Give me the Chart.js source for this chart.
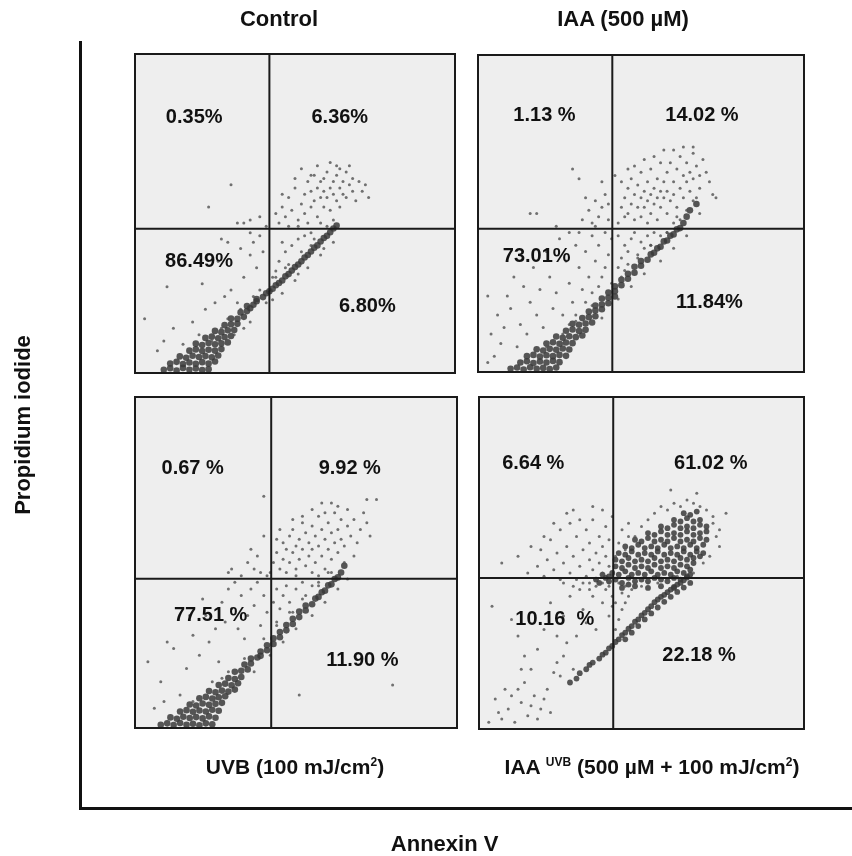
<!DOCTYPE html>
<html>
<head>
<meta charset="utf-8">
<script src="https://cdn.jsdelivr.net/npm/chart.js@4.4.1/dist/chart.umd.min.js"></script>
<style>
  body { margin: 0; background: #fff; width: 852px; height: 856px; position: relative; overflow: hidden;
         font-family: "Liberation Sans", Arial, sans-serif; }
  canvas { position: absolute; }
  .cap { position: absolute; font-weight: bold; color: #111; white-space: nowrap; transform: translate(-50%, -50%); }
  .cap sup { font-size: 12px; vertical-align: 8px; line-height: 0; }
</style>
</head>
<body>
<canvas id="frame" width="852" height="856" style="left:0;top:0"></canvas>
<canvas id="p0"></canvas>
<canvas id="p1"></canvas>
<canvas id="p2"></canvas>
<canvas id="p3"></canvas>
<div class="cap" style="left:279px;top:19px;font-size:22px">Control</div>
<div class="cap" style="left:623px;top:19px;font-size:22px">IAA (500 µM)</div>
<div class="cap" style="left:295px;top:767px;font-size:21px">UVB (100 mJ/cm<sup>2</sup>)</div>
<div class="cap" style="left:652px;top:767px;font-size:21px">IAA <sup>UVB</sup> (500 µM + 100 mJ/cm<sup>2</sup>)</div>
<script>
// axis titles of the whole figure
const xTitle = 'Annexin V';
const yTitle = 'Propidium iodide';

// quadrant percentages: [upper-left, upper-right, lower-left, lower-right]
const controlLabels = ['0.35%', '6.36%', '86.49%', '6.80%'];
const iaaLabels = ['1.13 %', '14.02 %', '73.01%', '11.84%'];
const uvbLabels = ['0.67 %', '9.92 %', '77.51 %', '11.90 %'];
const iaaUvbLabels = ['6.64 %', '61.02 %', '10.16  %', '22.18 %'];

// quadrant gates (data units, 0-100 channel scale)
const gateX = [42, 41.2, 42.3, 41.3];
const gateY = [45.2, 45.2, 45.1, 45.5];

// events: dense core and scattered events
const controlDense = [
  [9,1],[11,1.5],[13,0.8],[15,1.6],[17,1],[19,1.4],[21,0.9],[23,1.2],
  [11,3],[13,3.5],[15,2.8],[17,3.3],[19,2.9],[21,3.4],[23,3],[25,3.6],
  [14,5.2],[16,4.8],[18,5.4],[20,5],[22,5.3],[24,4.9],[26,5.5],
  [17,7],[19,7.4],[21,6.9],[23,7.3],[25,7],[27,7.5],
  [19,9.2],[21,8.8],[23,9.4],[25,9],[27,9.3],[29,9.6],
  [22,11],[24,11.4],[26,10.9],[28,11.3],[30,11.6],
  [25,13.2],[27,12.8],[29,13.4],[31,13.5],
  [28,15],[30,15.3],[32,15.4],
  [30,17.1],[32,17],[34,17.6],
  [33,19],[35,19.4],[36,20.3],
  [35,21],[37,21.4],[38,22.5],
  [38,23.2],[40,23.8],[41,25],[42,25.6],
  [43,26.4],[44,27.5],[45,28.2],[46,29],[47,30.3],[48,31],[49,32.1],[50,33.2],[51,34],[52,35],
  [53,36.2],[54,37],[55,38.1],[56,39.3],[57,40],[58,41.2],[59,42.3],[60,43],[61,44.1],[62,45.3],[63,46.2]
];
const controlSparse = [
  [45,47],[46,52],[47,49],[48,55],[49,51],[50,58],[51,48],[52,53],[53,56],[53,50],[54,60],[55,52],
  [55,57],[56,54],[56,62],[57,49],[57,58],[58,55],[58,60],[59,52],[59,57],[60,63],[60,55],[61,58],
  [61,51],[62,60],[62,56],[63,54],[63,62],[64,58],[64,52],[65,60],[65,56],[66,63],[66,55],[67,59],
  [68,57],[68,61],[69,54],[70,60],[71,57],[72,59],[73,55],[50,61],[52,64],[57,65],[61,66],[64,64],
  [67,65],[48,46],[51,46],[54,47],[58,47],[62,48],[46,56],[44,50],[55,62],[59,61],[63,65],
  [30,59],[23,52],[32,47],[34,47],[36,48],[39,49],[41,46],
  [27,42],[29,41],[37,41],[36,37],[38,33],[34,30],[10,27],[21,28],[3,17],[9,10],[7,7],[12,14],
  [18,16],[22,20],[25,22],[28,24],[30,26],[32,22],[20,12],[15,9],[39,43],[40,38],[36,44],[26,35],[33,39],
  [45,35],[47,38],[44,32],[49,40],[51,42],[53,43],[46,41],[55,44],[43,30],
  [27,14],[31,12],[33,20],[36,16],[39,26],[41,22],[44,30],[46,25],[48,34],[50,29],[52,38],[54,33],
  [56,42],[58,37],[60,46],[62,41],[24,10],[29,17],[34,14],[37,24],[43,23],[47,33],[51,31],[55,40],[59,39]
];

const iaaDense = [
  [10,1],[12,1.4],[14,0.8],[16,1.5],[18,1],[20,1.3],[22,0.9],[24,1.4],
  [13,3],[15,3.4],[17,2.8],[19,3.3],[21,3],[23,3.5],[25,3.1],
  [15,5],[17,5.4],[19,4.9],[21,5.3],[23,5],[25,5.4],[27,5.1],
  [18,7.2],[20,6.8],[22,7.3],[24,7],[26,7.4],[28,7.1],
  [21,9],[23,9.4],[25,8.9],[27,9.3],[29,9.1],
  [24,11.2],[26,10.8],[28,11.3],[30,11],[32,11.5],
  [27,13],[29,13.4],[31,12.9],[33,13.3],
  [29,15.2],[31,14.9],[33,15.3],[35,15.6],
  [32,17],[34,17.3],[36,17.6],
  [34,19.1],[36,19.4],[38,19.8],
  [36,21],[38,21.3],[40,21.7],
  [38,23.2],[40,23.4],[42,23.8],
  [40,25.1],[42,25.5],[42,27],[44,27.4],[44,29.1],[46,29.4],[46,31],[48,31.3],
  [48,33.2],[50,33.5],[50,35],[52,35.4],[53,37.1],[54,37.6],[55,39],[56,39.5],
  [57,41.2],[58,41.5],[59,43],[60,43.4],[61,45],[62,45.4],[63,47],[64,49],[65,51],[67,53]
];
const iaaSparse = [
  [43,47],[44,52],[45,49],[45,55],[46,58],[46,50],[47,53],[47,61],[48,48],[48,56],[49,52],[49,59],
  [50,55],[50,63],[50,49],[51,57],[51,52],[52,60],[52,54],[52,47],[53,56],[53,64],[53,50],[54,58],
  [54,53],[55,61],[55,55],[55,48],[56,57],[56,66],[56,52],[57,60],[57,55],[58,63],[58,50],[58,57],
  [59,66],[59,54],[60,60],[60,56],[61,64],[61,52],[62,58],[62,68],[63,62],[63,55],[64,60],[64,66],
  [65,57],[65,63],[66,69],[66,61],[67,65],[68,58],[68,62],[69,67],[70,63],[71,60],[72,56],[73,55],
  [54,68],[57,70],[60,70],[63,71],[66,71],[44,60],[42,62],[48,65],[51,67],[46,64],[61,49],[64,51],[67,55],
  [32,48],[34,51],[35,47],[36,54],[37,49],[38,52],[39,56],[40,48],[40,53],[33,55],[31,61],[16,50],
  [18,50],[24,46],[29,64],[36,46],[38,60],
  [5,5],[7,9],[8,14],[6,18],[10,20],[12,8],[13,15],[15,12],[16,22],[18,18],[19,26],[20,14],[22,30],
  [23,20],[24,25],[26,18],[27,35],[28,28],[29,22],[30,40],[31,33],[32,26],[33,38],[34,30],[35,43],
  [36,35],[37,40],[38,30],[39,44],[40,37],[14,27],[11,30],[9,24],[4,12],[3,3],[17,33],[21,38],
  [25,42],[28,44],[31,44],[41,42],[39,33],[37,27],[35,25],[33,22],[3,24],[21,8],[26,12],[30,16],
  [43,33],[44,36],[45,40],[46,38],[47,42],[48,44],[50,41],[52,43],[54,44],[44,30],[46,34],[49,37],
  [51,39],[43,43],[53,40],[56,43],[58,44],[60,47],
  [28,15],[32,13],[35,21],[38,17],[41,28],[43,23],[45,32],[47,27],[49,36],[51,31],[53,40],[56,35],
  [58,44],[60,39],[62,48],[64,43],[66,54],[68,50],[26,9],[30,18]
];

const uvbDense = [
  [8,1],[10,1.4],[12,0.9],[14,1.5],[16,1],[18,1.3],[20,0.8],[22,1.4],[24,1.1],
  [11,3.2],[13,2.8],[15,3.4],[17,3],[19,3.3],[21,2.9],[23,3.5],[25,3.1],
  [14,5],[16,5.4],[18,4.9],[20,5.3],[22,5],[24,5.5],[26,5.2],
  [17,7.1],[19,6.8],[21,7.4],[23,7],[25,7.3],[27,7.6],
  [20,9],[22,9.4],[24,8.9],[26,9.3],[28,9.6],
  [23,11.2],[25,10.8],[27,11.3],[29,11],[31,11.6],
  [26,13],[28,13.4],[30,12.9],[32,13.5],
  [29,15.1],[31,14.8],[33,15.4],
  [31,17],[33,17.3],[35,17.7],
  [34,19.2],[36,19.5],[36,21],[38,21.3],[39,21.8],
  [39,23.1],[41,23.5],[41,25],[43,25.4],[43,27.1],[45,27.4],[45,29],[47,29.5],
  [47,31.1],[49,31.4],[49,33],[51,33.5],[51,35.2],[53,35.5],[53,37],[55,37.4],
  [56,39.1],[57,39.6],[58,41],[59,41.5],[60,43.1],[61,43.4],[62,45],[63,45.5],[64,47],[65,49]
];
const uvbSparse = [
  [42,47],[43,50],[44,53],[45,48],[46,51],[46,56],[47,54],[47,47],[48,58],[48,50],[49,53],[49,60],
  [50,55],[50,48],[51,57],[51,51],[52,62],[52,54],[53,49],[53,59],[54,56],[54,52],[55,61],[55,54],
  [55,47],[56,58],[56,50],[57,55],[57,64],[58,52],[58,60],[59,57],[59,48],[60,62],[60,54],[61,59],
  [61,51],[62,65],[62,56],[63,60],[63,53],[64,63],[64,57],[65,55],[66,61],[66,66],[67,58],[68,63],
  [69,56],[70,60],[71,65],[72,62],[73,58],[72,69],[75,69],[58,68],[61,68],[55,66],[52,64],[49,63],
  [45,60],[44,57],[57,46],[60,47],[65,50],[68,52],[50,46],[59,65],[63,67],
  [40,70],[35,50],[37,48],[38,52],[39,47],[41,46],[30,48],[33,46],[36,54],[40,58],[29,47],
  [4,20],[8,14],[6,6],[12,24],[14,10],[16,18],[18,28],[20,22],[22,34],[23,26],[25,30],[27,38],
  [28,32],[30,36],[31,44],[32,30],[33,40],[35,34],[36,42],[37,37],[38,44],[39,31],[40,40],[41,35],
  [26,20],[24,14],[18,8],[10,26],[17,34],[29,42],[34,27],[21,39],[9,8],[13,3],
  [51,10],[80,13],[44,32],[45,36],[46,40],[47,43],[48,38],[50,42],[52,44],[53,40],[55,43],[43,38],
  [49,35],[57,44],[44,42],
  [27,15],[31,12],[34,21],[37,17],[40,27],[42,22],[44,31],[46,26],[48,35],[50,30],[52,39],[55,34],
  [57,43],[59,38],[61,47],[63,42],[25,9],[29,17],[66,45]
];

const iaaUvbDense = [
  [28,14],[30,15.2],[31,16.8],[33,18],[34,19.3],[35,20],[37,21.2],[38,22.4],[39,23],[40,24.3],
  [41,25],[42,26.2],[43,27],[44,28.3],[45,29],[46,30.2],[47,31],[48,32.3],[49,33],[50,34.2],
  [51,35],[52,36.1],[53,37],[54,38.2],[55,39],[56,39.8],[57,40.4],[58,41.2],[59,42],[60,42.8],
  [61,43.5],[62,44],[63,44.8],[64,45.6],[65,46.5],
  [45,27],[47,29],[49,31],[51,33],[53,34.8],[55,36.6],[57,38.3],[59,39.8],[61,41.3],[63,42.6],[65,44],
  [37,44],[39,45.5],[38,46.5],[40,46],[36,45],[44,42.5],[46,43.5],[48,43],[52,42.5],[56,43],[60,42.5],
  [40,44.5],[42,45],[44,44],[46,45.5],[48,44.5],[50,45],[52,44.5],[54,45.5],[56,45],[58,44.5],[60,45.5],[62,45],[64,46],
  [41,47],[43,46.5],[45,47.5],[47,46.5],[49,47],[51,46.5],[53,47.5],[55,46.5],[57,47],[59,46.5],[61,47.5],[63,47],[65,48],
  [42,49],[44,48.5],[46,49.5],[48,48.5],[50,49],[52,48.5],[54,49.5],[56,48.5],[58,49],[60,48.5],[62,49.5],[64,49],[66,50],
  [42,51],[44,50.5],[46,51.5],[48,50.5],[50,51],[52,50.5],[54,51.5],[56,50.5],[58,51],[60,50.5],[62,51.5],[64,51],[66,51.5],[68,52],
  [43,53],[45,52.5],[47,53.5],[49,52.5],[51,53],[53,52.5],[55,53.5],[57,52.5],[59,53],[61,52.5],[63,53.5],[65,52.5],[67,53.5],[69,53],
  [45,55],[47,54.5],[49,55.5],[51,54.5],[53,55],[55,54.5],[57,55.5],[59,54.5],[61,55],[63,54.5],[65,55.5],[67,54.5],[69,55.5],
  [48,57],[50,56.5],[52,57.5],[54,56.5],[56,57],[58,56.5],[60,57.5],[62,56.5],[64,57],[66,56.5],[68,57.5],[70,57],
  [52,59],[54,58.5],[56,59.5],[58,58.5],[60,59],[62,58.5],[64,59.5],[66,58.5],[68,59],[70,59.5],
  [56,61],[58,60.5],[60,61.5],[62,60.5],[64,61],[66,60.5],[68,61.5],[70,61],
  [60,63],[62,62.5],[64,63.5],[66,62.5],[68,63],[63,65],[65,64.5],[67,65.5]
];
const iaaUvbSparse = [
  [7,50],[12,52],[15,47],[18,49],[19,54],[20,46],[21,51],[22,57],[23,48],[24,53],[25,60],[25,45],
  [26,50],[27,55],[28,47],[28,62],[29,52],[30,58],[30,45],[31,49],[32,54],[33,46],[33,60],[34,51],
  [34,56],[35,48],[35,63],[36,53],[36,45],[37,58],[37,50],[38,47],[38,55],[39,61],[39,52],[40,49],
  [40,57],[41,46],[31,63],[27,65],[29,66],[23,62],[20,58],[16,55],[35,67],[38,66],[41,64],[32,44],
  [34,44],[36,43],[38,44],[40,43],[26,44],[29,43],
  [42,52],[43,56],[44,60],[45,54],[46,62],[48,58],[50,61],[52,63],[54,65],[56,67],[58,66],[60,68],
  [62,67],[64,69],[66,68],[68,67],[70,66],[72,62],[73,58],[74,55],[71,52],[69,50],[72,64],[74,60],
  [59,72],[67,71],[76,65],[46,58],[44,48],
  [4,37],[10,33],[12,28],[14,22],[16,18],[18,24],[20,30],[22,38],[24,20],[26,34],[28,40],[30,28],
  [32,36],[34,42],[36,30],[38,38],[40,34],[39,42],[37,44],[35,40],[33,32],[31,42],[27,26],[25,16],
  [21,12],[19,6],[17,10],[15,4],[13,8],[11,2],[9,6],[7,3],[5,9],[12,12],[14,14],[16,7],[18,3],
  [20,9],[22,5],[10,10],[8,12],[6,5],[3,2],[23,17],[26,22],[29,18],[24,28],[13,18],[41,40],[40,44],[41,37],
  [42,30],[43,33],[44,36],[45,38],[46,40],[47,42],[48,44],[44,41],[42,38],[45,43],[50,43],[52,44],
  [55,44],[58,45],[61,46],[63,47],[66,47],[43,44],[46,44]
];

// page layout of the four plot boxes [left, top, right, bottom] and label anchors (data units)
const boxes = [[133, 52, 457, 375], [476, 53, 806, 374], [133, 395, 459, 730], [477, 395, 806, 731]];
const labelAnchors = [
  [[18.5, 80], [64, 80], [20, 35], [72.6, 21]],
  [[20.4, 81], [68.7, 81], [18, 36.4], [71, 21.8]],
  [[17.9, 78.4], [66.7, 78.4], [23.5, 34], [70.6, 20.4]],
  [[16.7, 80], [71.3, 80], [23.3, 33], [67.7, 22]]
];
const denseRadius = [3.3, 3.3, 3.3, 2.9];

const panels = [
  { dense: controlDense, sparse: controlSparse, labels: controlLabels },
  { dense: iaaDense, sparse: iaaSparse, labels: iaaLabels },
  { dense: uvbDense, sparse: uvbSparse, labels: uvbLabels },
  { dense: iaaUvbDense, sparse: iaaUvbSparse, labels: iaaUvbLabels }
];

Chart.defaults.font.family = '"Liberation Sans", Arial, sans-serif';
Chart.defaults.color = '#111';

// outer L-shaped axes with the two axis titles
new Chart(document.getElementById('frame'), {
  type: 'scatter',
  data: { datasets: [] },
  options: {
    responsive: false,
    animation: false,
    layout: { padding: { left: 0, top: 42, right: 0, bottom: 0 } },
    plugins: { legend: { display: false }, tooltip: { enabled: false } },
    scales: {
      x: {
        min: 0, max: 1,
        ticks: { display: false },
        grid: { display: false, drawTicks: false },
        border: { display: true, width: 3, color: '#111' },
        title: { display: true, text: xTitle + '       ', font: { size: 22, weight: 'bold', lineHeight: 1 },
                 padding: { top: 26, bottom: 0 } }
      },
      y: {
        min: 0, max: 1,
        ticks: { display: false },
        grid: { display: false, drawTicks: false },
        border: { display: true, width: 3, color: '#111' },
        title: { display: true, text: yTitle, font: { size: 22, weight: 'bold' },
                 padding: { top: 11, bottom: 42.6 } }
      }
    }
  }
});

function quadrantPlugin(i) {
  return {
    id: 'quadrants' + i,
    beforeDatasetsDraw(chart) {
      const { ctx, chartArea: a } = chart;
      ctx.save();
      ctx.fillStyle = '#eeeeee';
      ctx.fillRect(a.left, a.top, a.width, a.height);
      ctx.restore();
    },
    afterDatasetsDraw(chart) {
      const { ctx, chartArea: a, scales: { x, y } } = chart;
      const gx = x.getPixelForValue(gateX[i]);
      const gy = y.getPixelForValue(gateY[i]);
      ctx.save();
      ctx.strokeStyle = '#1a1a1a';
      ctx.lineWidth = 2;
      ctx.beginPath();
      ctx.moveTo(gx, a.top); ctx.lineTo(gx, a.bottom);
      ctx.moveTo(a.left, gy); ctx.lineTo(a.right, gy);
      ctx.stroke();
      ctx.strokeRect(a.left, a.top, a.width, a.height);
      ctx.font = 'bold 20px "Liberation Sans", Arial, sans-serif';
      ctx.fillStyle = '#111';
      ctx.textAlign = 'center';
      ctx.textBaseline = 'middle';
      panels[i].labels.forEach((t, k) => {
        const [lx, ly] = labelAnchors[i][k];
        ctx.fillText(t, x.getPixelForValue(lx), y.getPixelForValue(ly));
      });
      ctx.restore();
    }
  };
}

const toPts = arr => arr.map(([x, y]) => ({ x, y }));

panels.forEach((p, i) => {
  const [l, t, r, b] = boxes[i];
  const cv = document.getElementById('p' + i);
  cv.width = r - l + 4;
  cv.height = b - t + 4;
  cv.style.left = (l - 2) + 'px';
  cv.style.top = (t - 2) + 'px';
  new Chart(cv, {
    type: 'scatter',
    data: {
      datasets: [
        { data: toPts(p.sparse), pointRadius: 1.5, borderWidth: 0, backgroundColor: 'rgba(80,80,80,0.8)' },
        { data: toPts(p.dense), pointRadius: denseRadius[i], borderWidth: 0, backgroundColor: 'rgba(58,58,58,0.85)' }
      ]
    },
    options: {
      responsive: false,
      animation: false,
      layout: { padding: 2 },
      plugins: { legend: { display: false }, tooltip: { enabled: false } },
      scales: {
        x: { type: 'linear', display: false, min: 0, max: 100 },
        y: { type: 'linear', display: false, min: 0, max: 100 }
      }
    },
    plugins: [quadrantPlugin(i)]
  });
});
</script>
</body>
</html>
